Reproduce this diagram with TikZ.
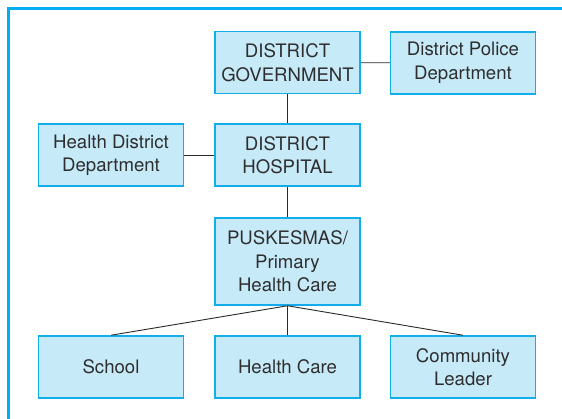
\documentclass[tikz,border=0pt]{standalone}
\usepackage{fontspec}
\setmainfont{TeX Gyre Heros}
\definecolor{framec}{HTML}{00AEEF}
\definecolor{boxfill}{HTML}{C7EAF9}
\definecolor{boxdraw}{HTML}{12ADEA}
\definecolor{txt}{HTML}{2E2E2E}
\definecolor{linec}{HTML}{2A2A2A}
\begin{document}
\begin{tikzpicture}[x=1pt,y=-1pt,
  orgbox/.style={draw=boxdraw,fill=boxfill,line width=1.5pt,minimum width=145pt,minimum height=62pt,
    align=center,inner sep=2pt,text=txt,font=\fontsize{18.6}{23.5}\selectfont},
  conn/.style={draw=linec,line width=0.9pt}]
\useasboundingbox (0,0) rectangle (562,419);
\fill[white] (0,0) rectangle (562,419);
\draw[framec,line width=2.6pt] (8.3,430) -- (8.3,8.3) -- (575,8.3);
\node[orgbox] (gov) at (287.5,62.5) {DISTRICT\\GOVERNMENT};
\node[orgbox] (police) at (463,63) {District Police\\Department};
\node[orgbox] (hdd) at (111,155) {Health District\\Department};
\node[orgbox] (hosp) at (287.5,155) {DISTRICT\\HOSPITAL};
\node[orgbox,minimum height=87pt] (pusk) at (287.5,261.5) {PUSKESMAS/\\Primary\\Health Care};
\node[orgbox] (school) at (111,367) {School};
\node[orgbox] (hc) at (287.5,367) {Health Care};
\node[orgbox] (cl) at (463,367) {Community\\Leader};
\draw[conn] (gov) -- (police);
\draw[conn] (gov) -- (hosp);
\draw[conn] (hdd) -- (hosp);
\draw[conn] (hosp) -- (pusk);
\draw[conn] (pusk.south) -- (school.north);
\draw[conn] (pusk.south) -- (hc.north);
\draw[conn] (pusk.south) -- (cl.north);
\end{tikzpicture}
\end{document}
